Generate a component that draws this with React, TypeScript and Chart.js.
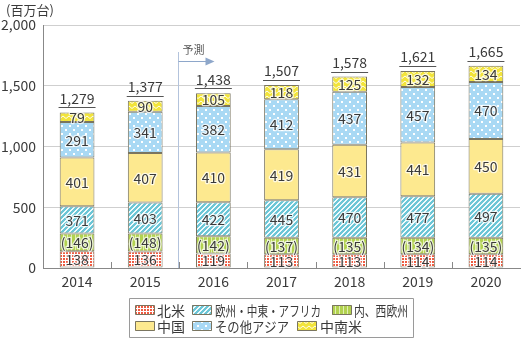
import React, { useEffect, useRef } from "react";
import { Chart, registerables } from "chart.js";

Chart.register(...registerables);

const years = ["2014", "2015", "2016", "2017", "2018", "2019", "2020"];
const northAmerica = [138, 136, 119, 113, 113, 114, 114];
const westEurope = [146, 148, 142, 137, 135, 134, 135];
const emea = [371, 403, 422, 445, 470, 477, 497];
const china = [401, 407, 410, 419, 431, 441, 450];
const otherAsia = [291, 341, 382, 412, 437, 457, 470];
const latinAmerica = [79, 90, 105, 118, 125, 132, 134];
const totals = [1279, 1377, 1438, 1507, 1578, 1621, 1665];
const yMax = 2000;
const yStep = 500;
const unitLabel = "(百万台)";
const forecastLabel = "予測";
const legendNames = ["北米", "欧州・中東・アフリカ", "内、西欧州", "中国", "その他アジア", "中南米"];

const FONT = '"Noto Sans CJK JP", "Noto Sans", sans-serif';
const TEXT = "#3a3a3a";
const BORDER = "#7a7560";

function makePattern(w: number, h: number, draw: (c: CanvasRenderingContext2D) => void) {
  const cv = document.createElement("canvas");
  cv.width = w;
  cv.height = h;
  const c = cv.getContext("2d")!;
  draw(c);
  return c.createPattern(cv, "repeat")!;
}

function buildPatterns() {
  const red = makePattern(3, 3, (c) => {
    c.fillStyle = "#ffffff";
    c.fillRect(0, 0, 3, 3);
    c.fillStyle = "#ee5c42";
    c.fillRect(0, 0, 2, 2);
  });
  const green = makePattern(4, 1, (c) => {
    c.fillStyle = "#b2d250";
    c.fillRect(0, 0, 4, 1);
    c.fillStyle = "#e2efb4";
    c.fillRect(3, 0, 1, 1);
  });
  const teal = makePattern(5, 5, (c) => {
    c.fillStyle = "#6cc6d6";
    c.fillRect(0, 0, 5, 5);
    c.fillStyle = "#f0fafc";
    for (let x = 0; x < 5; x++)
      for (let y = 0; y < 5; y++) {
        if ((x + y) % 5 === 0 || (x + y) % 5 === 1) c.fillRect(x, y, 1, 1);
      }
  });
  const yellow = "#fde98f";
  const blue = makePattern(8, 8, (c) => {
    c.fillStyle = "#a9d9f4";
    c.fillRect(0, 0, 8, 8);
    c.fillStyle = "#ffffff";
    c.fillRect(1, 1, 2, 2);
    c.fillRect(5, 5, 2, 2);
  });
  const zig = makePattern(6, 5, (c) => {
    c.fillStyle = "#f2e43a";
    c.fillRect(0, 0, 6, 5);
    c.strokeStyle = "rgba(255,255,255,0.9)";
    c.lineWidth = 1;
    c.beginPath();
    c.moveTo(0, 3.5);
    c.lineTo(3, 1);
    c.lineTo(6, 3.5);
    c.stroke();
  });
  return { red, green, teal, yellow, blue, zig };
}

export default function App() {
  const ref = useRef<HTMLCanvasElement>(null);

  useEffect(() => {
    const p = buildPatterns();
    const emeaRest = emea.map((v, i) => v - westEurope[i]);
    const labelSets = [
      northAmerica.map((v) => String(v)),
      westEurope.map((v) => `(${v})`),
      emea.map((v) => String(v)),
      china.map((v) => String(v)),
      otherAsia.map((v) => String(v)),
      latinAmerica.map((v) => String(v)),
    ];
    const fills: any[] = [p.red, p.green, p.teal, p.yellow, p.blue, p.zig];
    const seriesData = [northAmerica, westEurope, emeaRest, china, otherAsia, latinAmerica];

    const overlay = {
      id: "overlay",
      afterDatasetsDraw(chart: any) {
        const ctx = chart.ctx as CanvasRenderingContext2D;
        const area = chart.chartArea;
        const xs = chart.scales.x;
        ctx.save();
        ctx.strokeStyle = "#888";
        ctx.lineWidth = 1;
        const bw = (area.right - area.left) / years.length;
        for (let k = 1; k < years.length; k++) {
          const x = Math.round(area.left + k * bw) + 0.5;
          ctx.beginPath();
          ctx.moveTo(x, area.bottom - 6);
          ctx.lineTo(x, area.bottom);
          ctx.stroke();
        }
        // segment labels with soft white halo
        ctx.font = `14px ${FONT}`;
        ctx.textAlign = "center";
        ctx.textBaseline = "middle";
        ctx.lineJoin = "round";
        for (let d = 0; d < seriesData.length; d++) {
          const meta = chart.getDatasetMeta(d);
          meta.data.forEach((el: any, j: number) => {
            const cy = (el.y + el.base) / 2 + 0.5;
            ctx.strokeStyle = "rgba(255,255,255,0.75)";
            ctx.lineWidth = 2.5;
            ctx.strokeText(labelSets[d][j], el.x, cy);
            ctx.fillStyle = TEXT;
            ctx.fillText(labelSets[d][j], el.x, cy);
          });
        }
        ctx.lineWidth = 1;
        // totals
        const top = chart.getDatasetMeta(seriesData.length - 1);
        top.data.forEach((el: any, j: number) => {
          const t = totals[j].toLocaleString("en-US");
          const w = ctx.measureText(t).width;
          ctx.fillStyle = TEXT;
          ctx.fillText(t, el.x, el.y - 14);
          ctx.strokeStyle = "#555";
          ctx.beginPath();
          ctx.moveTo(el.x - w / 2 - 1, Math.round(el.y - 5) + 0.5);
          ctx.lineTo(el.x + w / 2 + 1, Math.round(el.y - 5) + 0.5);
          ctx.stroke();
        });
        // forecast marker
        const fx = Math.round((xs.getPixelForValue(1) + xs.getPixelForValue(2)) / 2) - 0.5;
        ctx.strokeStyle = "#b3c3dc";
        ctx.beginPath();
        ctx.moveTo(fx, 52);
        ctx.lineTo(fx, area.bottom);
        ctx.stroke();
        ctx.strokeStyle = "#8ea7ca";
        ctx.beginPath();
        ctx.moveTo(fx, 61.5);
        ctx.lineTo(fx + 30, 61.5);
        ctx.stroke();
        ctx.fillStyle = "#8ea7ca";
        ctx.beginPath();
        ctx.moveTo(fx + 36, 61.5);
        ctx.lineTo(fx + 27, 57.5);
        ctx.lineTo(fx + 27, 65.5);
        ctx.closePath();
        ctx.fill();
        ctx.fillStyle = "#555";
        ctx.font = `11px ${FONT}`;
        ctx.textAlign = "left";
        ctx.fillText(forecastLabel, fx + 4, 50);
        // unit label
        ctx.font = `13px ${FONT}`;
        ctx.fillStyle = TEXT;
        ctx.fillText(unitLabel, 6, 10);
        // legend
        ctx.fillStyle = "#fff";
        ctx.fillRect(129.5, 298.5, 284, 39);
        ctx.strokeStyle = "#9a9a9a";
        ctx.strokeRect(129.5, 298.5, 284, 39);
        const order = [0, 2, 1, 3, 4, 5];
        const pos = [
          { sx: 135, tx: 157, tw: 28, y: 310 },
          { sx: 192, tx: 215, tw: 106, y: 310 },
          { sx: 332, tx: 354, tw: 54, y: 310 },
          { sx: 135, tx: 157, tw: 28, y: 326 },
          { sx: 192, tx: 215, tw: 74, y: 326 },
          { sx: 297, tx: 320, tw: 42, y: 326 },
        ];
        ctx.font = `14px ${FONT}`;
        order.forEach((d, k) => {
          const q = pos[k];
          ctx.fillStyle = fills[d];
          ctx.fillRect(q.sx, q.y - 5, 20, 10);
          ctx.strokeStyle = BORDER;
          ctx.strokeRect(q.sx + 0.5, q.y - 4.5, 19, 9);
          ctx.fillStyle = TEXT;
          ctx.fillText(legendNames[k], q.tx, q.y + 0.5, q.tw);
        });
        ctx.restore();
      },
    };

    const chart = new Chart(ref.current!, {
      type: "bar",
      data: {
        labels: years,
        datasets: seriesData.map((data, d) => ({
          label: ["北米", "内、西欧州", "欧州・中東・アフリカ", "中国", "その他アジア", "中南米"][d],
          data,
          backgroundColor: fills[d],
          borderColor: BORDER,
          borderWidth: 1,
          borderSkipped: false,
          barPercentage: 0.51,
          categoryPercentage: 1,
        })),
      },
      options: {
        animation: false,
        responsive: false,
        maintainAspectRatio: false,
        layout: { padding: { top: 25, right: 2, left: 0, bottom: 0 } },
        plugins: { legend: { display: false }, tooltip: { enabled: false }, title: { display: false } },
        scales: {
          x: {
            stacked: true,
            grid: { display: false, drawTicks: false },
            border: { display: true, color: "#888" },
            ticks: { color: TEXT, font: { size: 14, family: FONT }, padding: 5 },
            afterFit: (s: any) => {
              s.height = 72;
            },
          },
          y: {
            stacked: true,
            min: 0,
            max: yMax,
            grid: { color: "#cfcfcf", drawTicks: false },
            border: { display: true, color: "#888" },
            ticks: {
              stepSize: yStep,
              color: TEXT,
              font: { size: 14, family: FONT },
              padding: 7,
              callback: (v: any) => Number(v).toLocaleString("en-US"),
            },
            afterFit: (s: any) => {
              s.width = 43;
            },
          },
        },
      },
      plugins: [overlay],
    } as any);
    return () => chart.destroy();
  }, []);

  return (
    <div style={{ position: "fixed", left: 0, top: 0, width: 522, height: 340, background: "#fff" }}>
      <canvas ref={ref} width={522} height={340} style={{ width: 522, height: 340 }} />
    </div>
  );
}
